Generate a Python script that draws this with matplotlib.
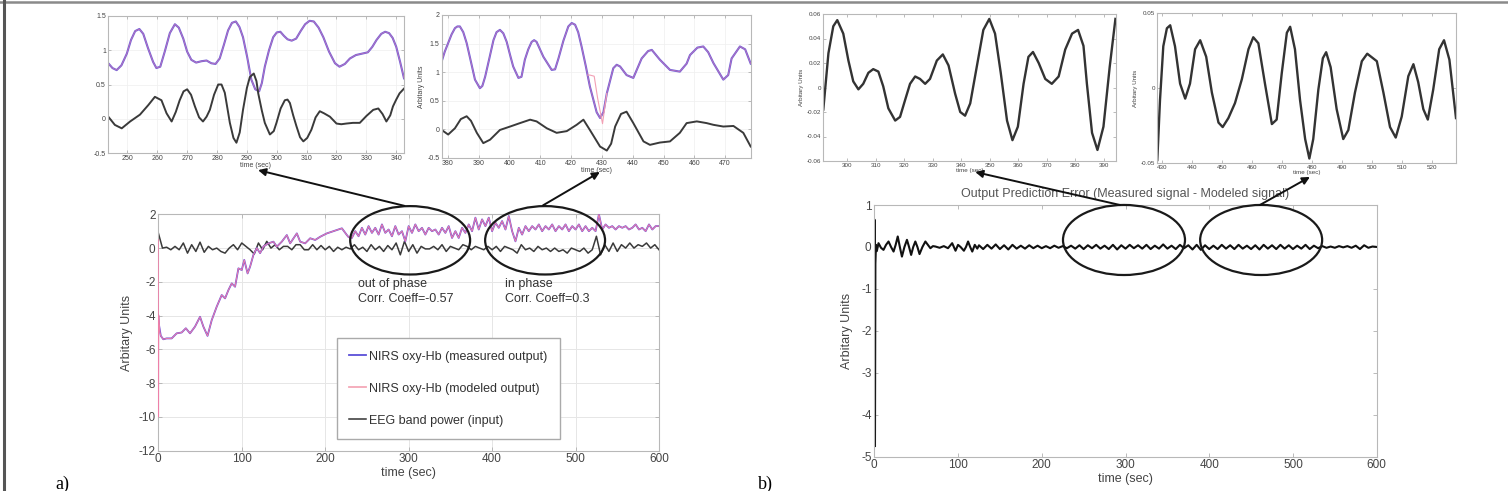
import numpy as np
import matplotlib
matplotlib.use("Agg")
import matplotlib.pyplot as plt
from matplotlib.patches import Ellipse, ConnectionPatch
from matplotlib.lines import Line2D
from matplotlib.ticker import FormatStrFormatter

plt.rcParams['font.family'] = ['Liberation Sans', 'DejaVu Sans']
plt.rcParams['axes.unicode_minus'] = False

# ---- main panel a: NIRS oxy-Hb + EEG band power, 0-600 s ----
a_t_start = [0, 1, 3, 6, 10, 16, 22, 28, 33, 38, 44, 50, 54, 59, 64, 70, 76, 80, 84, 88,
             92, 96, 100, 103, 107, 110, 114, 118, 122, 126, 132, 138, 142, 148, 154, 158,
             166, 170, 176, 182, 188, 194, 202, 208, 214, 220, 226, 228]
a_v_start = [-4.0, -4.6, -5.2, -5.4, -5.35, -5.35, -5.05, -5.0, -4.75, -5.05, -4.65, -4.07,
             -4.65, -5.2, -4.27, -3.47, -2.78, -2.98, -2.49, -2.09, -2.29, -1.2, -1.3, -0.7,
             -1.5, -1.1, -0.4, 0.0, -0.3, 0.1, 0.28, 0.38, 0.08, 0.38, 0.77, 0.28, 0.87, 0.38,
             0.28, 0.58, 0.48, 0.67, 0.87, 0.97, 1.07, 1.17, 0.77, 0.65]
# 232..600 every 4 s
a_v_rest = [0.6, 1.0, 0.7, 1.2, 0.8, 1.3, 0.9, 1.2, 0.8, 1.4,
            0.9, 1.1, 0.7, 1.3, 0.8, 1.0, 0.4, 1.3, 0.9, 1.4,
            1.0, 1.2, 0.8, 1.2, 1.0, 1.1, 0.8, 1.2, 0.9, 1.3,
            0.6, 1.0, 0.6, 1.2, 0.9, 1.4, 1.0, 1.8, 1.1, 1.7,
            1.3, 1.8, 1.0, 1.5, 1.2, 1.6, 1.1, 1.9, 1.0, 0.4,
            1.2, 0.8, 1.3, 1.0, 1.3, 1.1, 1.4, 1.0, 1.3, 1.1,
            1.4, 1.0, 1.3, 1.1, 1.4, 1.0, 1.3, 1.1, 1.4, 1.0,
            1.3, 1.0, 1.2, 1.0, 2.0, 1.1, 1.4, 1.2, 1.3, 1.1,
            1.3, 1.2, 1.3, 1.1, 1.2, 1.4, 1.1, 1.2, 1.0, 1.4,
            1.1, 1.3, 1.3]
model_t_start = [0, 0.3, 0.6, 1.0, 2.0]
model_v_start = [0.5, -10.0, -4.0, -4.5, -5.0]

# EEG band power, 0..600 every 5 s
eeg_v = [0.9, 0.0, 0.05, -0.1, 0.1, -0.1, 0.3, -0.3, 0.2, -0.2,
         0.35, -0.25, 0.1, -0.1, 0.0, -0.2, -0.3, 0.0, 0.2, -0.1,
         0.3, 0.1, -0.1, -0.35, 0.3, -0.1, 0.4, 0.0, 0.2, -0.1,
         0.1, 0.1, -0.1, 0.2, 0.2, -0.1, -0.1, 0.2, -0.1, 0.15,
         -0.1, 0.1, -0.2, 0.05, -0.1, 0.05, -0.05, 0.2, -0.1, 0.05,
         -0.2, 0.2, -0.1, 0.1, -0.2, 0.15, -0.1, 0.3, -0.4, 0.4,
         -0.2, 0.2, -0.3, 0.1, -0.05, -0.05, 0.1, -0.1, 0.2, -0.2,
         0.1, 0.0, -0.1, 0.2, 0.1, -0.1, 0.1, 0.0, -0.1, 0.1,
         -0.1, 0.1, -0.2, 0.1, 0.0, -0.1, -0.3, 0.2, -0.1, 0.0,
         -0.2, 0.1, -0.1, 0.0, -0.2, 0.0, -0.2, -0.1, -0.3, 0.0,
         -0.1, -0.2, 0.0, -0.3, -0.1, 0.7, -0.4, 0.2, -0.2, 0.3,
         -0.2, 0.2, 0.0, 0.3, 0.0, 0.2, 0.1, 0.3, 0.0, 0.2,
         -0.1]

# ---- main panel b: output prediction error ----
b_t_start = [0, 0.3, 0.8, 1.3, 2, 3, 5, 8, 11, 14, 17, 20, 23, 25.5, 28, 30.5, 33, 36, 39, 41.5,
             44, 46.5, 49, 51.5, 54, 57.5, 61, 64, 67, 70, 73, 78, 83, 88, 93, 97, 100, 103, 107,
             109.5, 112, 114.5, 117, 120, 123]
b_v_start = [0.0, 0.65, -4.75, -0.4, 0.05, -0.1, 0.09, -0.02, -0.07, 0.05, 0.13, 0.0, -0.11,
             0.05, 0.25, 0.0, -0.23, 0.0, 0.17, 0.0, -0.19, 0.0, 0.13, 0.0, -0.17, 0.0, 0.13,
             0.05, -0.03, 0.02, 0.01, -0.02, 0.02, -0.03, 0.09, -0.09, 0.05, 0.0, -0.09, 0.0,
             0.13, 0.0, -0.11, 0.05, -0.04]
# 125..600 every 5 s
b_v_rest = [0.04, -0.05, 0.05, -0.04, 0.06, -0.05, 0.04, -0.06, 0.05, -0.04,
            0.03, -0.04, 0.04, -0.03, 0.03, -0.03, 0.02, -0.03, 0.03, -0.02,
            0.02, -0.03, 0.03, -0.04, 0.04, -0.05, 0.04, -0.03, 0.05, -0.04,
            0.03, -0.05, 0.05, -0.06, 0.04, -0.04, 0.05, -0.03, 0.04, -0.04,
            0.05, -0.05, 0.03, -0.04, 0.06, -0.04, 0.03, -0.05, 0.05, -0.03,
            0.04, -0.06, 0.05, -0.07, 0.04, -0.05, 0.03, -0.05, 0.05, -0.04,
            0.04, -0.05, 0.05, -0.04, 0.03, -0.05, 0.04, -0.06, 0.05, -0.04,
            0.04, -0.05, 0.05, -0.04, 0.04, -0.05, 0.03, -0.04, 0.05, -0.05,
            0.03, -0.03, 0.02, -0.02, 0.01, -0.02, 0.02, -0.01, 0.02, -0.02,
            0.03, -0.05, 0.04, -0.02, 0.01, 0.0]

# ---- inset a1 (250-340 s) ----
a1_t = [243.6, 245.0, 246.4, 248.0, 249.8, 251.2, 252.6, 254.0, 255.3, 256.9,
        258.6, 259.7, 261.0, 262.5, 264.2, 265.9, 267.2, 268.7, 270.0, 271.4,
        273.0, 274.8, 276.5, 278.1, 279.5, 280.9, 282.3, 283.7, 285.0, 286.3,
        287.5, 288.7, 290.1, 291.5, 292.8, 294.1, 295.0, 296.0, 297.4, 298.8,
        300.0, 301.2, 302.4, 303.6, 305.0, 306.5, 308.0, 309.5, 311.0, 312.4,
        314.0, 315.6, 317.5, 319.5, 321.0, 322.8, 324.5, 326.5, 328.5, 330.5,
        332.0, 333.4, 335.0, 336.3, 337.6, 338.8, 340.0, 341.3, 342.6]
a1_meas = [0.81, 0.74, 0.71, 0.78, 0.95, 1.15, 1.28, 1.31, 1.24, 1.03,
           0.83, 0.74, 0.76, 0.98, 1.25, 1.38, 1.33, 1.17, 0.98, 0.86,
           0.82, 0.84, 0.85, 0.81, 0.80, 0.88, 1.08, 1.29, 1.40, 1.42,
           1.34, 1.19, 0.90, 0.57, 0.43, 0.40, 0.52, 0.76, 1.00, 1.19,
           1.26, 1.27, 1.21, 1.16, 1.14, 1.17, 1.28, 1.38, 1.43, 1.42,
           1.33, 1.19, 0.98, 0.81, 0.76, 0.80, 0.88, 0.93, 0.95, 0.97,
           1.05, 1.15, 1.24, 1.27, 1.25, 1.18, 1.05, 0.83, 0.59]
a1_eeg_t = [243.6, 245.8, 248.1, 250.9, 254.2, 257.0, 259.2, 261.4, 263.1, 264.8,
            266.2, 267.5, 268.8, 270.0, 271.3, 272.6, 274.0, 275.3, 276.5, 277.6,
            279.0, 280.4, 281.5, 282.6, 284.3, 285.5, 286.5, 287.6, 288.7, 290.0,
            291.0, 292.3, 293.2, 293.8, 295.0, 296.0, 297.7, 299.0, 299.9, 301.3,
            302.7, 303.6, 304.4, 305.5, 306.6, 307.8, 308.9, 310.2, 311.6, 313.0,
            314.4, 315.8, 317.8, 320.0, 321.6, 323.3, 325.5, 327.8, 330.0, 332.3,
            334.0, 335.4, 336.7, 338.0, 338.9, 340.0, 341.1, 342.6]
a1_eeg = [0.03, -0.09, -0.14, -0.04, 0.06, 0.20, 0.32, 0.27, 0.08, -0.04,
          0.10, 0.27, 0.40, 0.43, 0.35, 0.18, 0.02, -0.04, 0.03, 0.13,
          0.35, 0.50, 0.50, 0.38, -0.06, -0.28, -0.35, -0.20, 0.13, 0.45,
          0.61, 0.66, 0.55, 0.37, 0.12, -0.06, -0.23, -0.18, -0.06, 0.15,
          0.27, 0.28, 0.23, 0.05, -0.11, -0.27, -0.33, -0.28, -0.16, 0.02,
          0.11, 0.08, 0.03, -0.07, -0.08, -0.07, -0.06, -0.06, 0.04, 0.13,
          0.15, 0.07, -0.04, 0.05, 0.18, 0.28, 0.37, 0.44]

# ---- inset a2 (380-475 s) ----
a2_t = [378.0, 379.0, 380.1, 381.2, 382.3, 383.1, 383.9, 385.0, 386.1, 387.5,
        388.8, 390.4, 391.2, 392.1, 393.5, 394.8, 395.8, 396.9, 398.0, 399.1,
        400.2, 401.2, 402.9, 403.9, 405.0, 406.1, 407.2, 408.0, 408.8, 411.0,
        413.7, 414.8, 415.9, 417.5, 419.1, 420.2, 421.3, 422.3, 423.4, 424.8,
        426.1, 428.3, 429.4, 430.5, 431.6, 433.7, 434.8, 435.9, 438.0, 440.2,
        442.9, 445.0, 446.2, 448.8, 452.1, 455.3, 457.5, 458.6, 461.0, 462.9,
        464.5, 466.2, 469.4, 471.0, 472.1, 474.8, 476.5, 478.3]
a2_meas = [1.19, 1.36, 1.51, 1.66, 1.77, 1.80, 1.80, 1.70, 1.51, 1.18,
           0.87, 0.72, 0.76, 0.92, 1.25, 1.56, 1.70, 1.74, 1.68, 1.53,
           1.30, 1.10, 0.90, 0.92, 1.22, 1.40, 1.53, 1.56, 1.53, 1.27,
           1.04, 1.05, 1.24, 1.55, 1.80, 1.86, 1.83, 1.70, 1.45, 1.10,
           0.75, 0.30, 0.20, 0.30, 0.63, 1.07, 1.13, 1.10, 0.95, 0.90,
           1.24, 1.37, 1.39, 1.22, 1.04, 1.01, 1.15, 1.30, 1.43, 1.45,
           1.35, 1.16, 0.87, 0.95, 1.24, 1.45, 1.40, 1.15]
a2_dev_t = [425.5, 426.1, 427.5, 428.6, 430.2, 431.6]
a2_dev_v = [0.95, 0.95, 0.93, 0.55, 0.10, 0.63]
a2_eeg_t = [378.0, 380.1, 382.3, 384.2, 386.1, 387.5, 389.4, 391.5, 393.7, 396.9,
            400.2, 403.4, 406.7, 408.8, 412.1, 415.3, 418.6, 421.8, 424.0, 426.1,
            429.4, 431.6, 433.0, 434.3, 436.2, 438.0, 440.2, 443.5, 445.6, 448.8,
            452.1, 455.3, 457.5, 460.8, 464.0, 466.2, 469.4, 472.7, 475.9, 478.3]
a2_eeg = [-0.01, -0.09, 0.02, 0.18, 0.23, 0.15, -0.06, -0.24, -0.18, -0.01,
          0.05, 0.11, 0.17, 0.14, 0.02, -0.06, -0.03, 0.08, 0.17, -0.01,
          -0.30, -0.37, -0.25, 0.05, 0.27, 0.31, 0.11, -0.21, -0.27, -0.23,
          -0.21, -0.06, 0.11, 0.14, 0.11, 0.08, 0.05, 0.06, -0.06, -0.30]

# ---- inset b1 (300-390 s) ----
b1_t = [291.6, 293.4, 295.1, 296.5, 298.6, 300.4, 302.1, 303.9, 305.6, 307.4,
        309.1, 310.9, 312.6, 314.4, 316.8, 318.5, 320.3, 322.0, 323.8, 325.5,
        327.3, 329.0, 331.4, 333.5, 335.5, 337.8, 339.6, 341.3, 343.1, 345.4,
        347.7, 349.8, 351.8, 353.8, 356.0, 357.9, 359.8, 361.8, 363.5, 365.1,
        367.1, 369.4, 371.7, 374.1, 376.4, 378.8, 380.9, 382.8, 384.0, 385.8,
        387.7, 389.8, 392.0, 394.0]
b1_err = [-0.018, 0.028, 0.050, 0.055, 0.044, 0.022, 0.005, -0.0015, 0.003, 0.012,
          0.015, 0.013, 0.001, -0.017, -0.027, -0.024, -0.010, 0.003, 0.009, 0.007,
          0.003, 0.007, 0.022, 0.027, 0.018, -0.005, -0.020, -0.023, -0.013, 0.017,
          0.047, 0.056, 0.044, 0.012, -0.027, -0.043, -0.032, 0.003, 0.025, 0.029,
          0.020, 0.007, 0.003, 0.009, 0.031, 0.044, 0.047, 0.034, 0.003, -0.037,
          -0.051, -0.032, 0.017, 0.056]
b1_yticks = [-0.06, -0.04, -0.02, 0, 0.02, 0.04, 0.06]

# ---- inset b2 (430-520 s) ----
b2_t = [428.5, 429.4, 430.5, 431.7, 432.8, 434.4, 436.1, 437.8, 439.4, 441.1,
        442.8, 444.8, 446.7, 448.9, 450.3, 452.2, 454.4, 456.7, 458.9, 460.5,
        462.2, 464.4, 466.7, 468.3, 470.0, 471.7, 472.8, 474.4, 476.1, 477.8,
        479.2, 480.5, 482.2, 483.7, 484.8, 486.3, 488.3, 490.5, 492.2, 494.4,
        496.7, 498.5, 501.7, 503.9, 506.1, 508.0, 510.0, 512.2, 513.9, 515.5,
        517.2, 518.7, 520.5, 522.5, 524.1, 525.9, 528.1]
b2_err = [-0.048, -0.008, 0.028, 0.040, 0.042, 0.028, 0.003, -0.007, 0.003, 0.026,
          0.032, 0.021, -0.003, -0.023, -0.026, -0.020, -0.010, 0.006, 0.026, 0.034,
          0.030, 0.003, -0.024, -0.021, 0.010, 0.037, 0.041, 0.026, -0.008, -0.034,
          -0.047, -0.034, -0.001, 0.020, 0.024, 0.014, -0.014, -0.034, -0.028, -0.003,
          0.018, 0.023, 0.018, -0.003, -0.026, -0.033, -0.019, 0.008, 0.016, 0.004,
          -0.014, -0.021, -0.001, 0.026, 0.032, 0.019, -0.020]
b2_yticks = [-0.05, 0, 0.05]

a_time = np.concatenate([a_t_start, np.arange(232, 601, 4)])
a_meas = np.concatenate([a_v_start, a_v_rest])
a_model_t = np.concatenate([model_t_start, a_time[a_time >= 3]])
a_model = np.concatenate([model_v_start, a_meas[a_time >= 3]])
eeg_t = np.arange(0, 601, 5)
b_time = np.concatenate([b_t_start, np.arange(125, 601, 5)])
b_err = np.concatenate([b_v_start, b_v_rest])

W, H = 1508, 491
def px_box(l, t, r, b):
    return [l / W, 1 - b / H, (r - l) / W, (b - t) / H]

C_MEAS = '#6a4fdc'
C_MODEL = '#ee7fa8'
C_EEG = '#3a3a3a'
TXT = '#444444'

def style(ax, fs):
    for s in ax.spines.values():
        s.set_color('#b8b8b8')
        s.set_linewidth(0.8)
    ax.tick_params(direction='in', top=True, right=True, color='#b0b0b0',
                   labelcolor=TXT, labelsize=fs, length=3, width=0.6, pad=2)

fig = plt.figure(figsize=(W / 100, H / 100), dpi=100)

# main a
ax_a = fig.add_axes(px_box(158.3, 214.3, 659, 450.7))
ax_a.plot(a_time, a_meas, color=C_MEAS, lw=1.3, zorder=3)
ax_a.plot(a_model_t, a_model, color=C_MODEL, lw=0.7, zorder=4)
ax_a.plot(eeg_t, eeg_v, color=C_EEG, lw=1.1, zorder=2)
ax_a.set_xlim(0, 600)
ax_a.set_ylim(-12, 2)
ax_a.set_xticks(range(0, 601, 100))
ax_a.set_yticks(range(-12, 3, 2))
ax_a.grid(True, color='#e6e6e6', lw=0.7)
style(ax_a, 8.5)
ax_a.set_xlabel('time (sec)', fontsize=9, color=TXT, labelpad=1)
ax_a.set_ylabel('Arbitary Units', fontsize=9, color=TXT, labelpad=4)
handles = [Line2D([], [], color='#5b4fd8', lw=1.3),
           Line2D([], [], color='#f4a8b8', lw=1.3),
           Line2D([], [], color='#333333', lw=1.1)]
ax_a.legend(handles, ['NIRS oxy-Hb (measured output)', 'NIRS oxy-Hb (modeled output)',
                      'EEG band power (input)'],
            loc='upper left', bbox_to_anchor=(0.3565, 0.476), borderaxespad=0,
            fontsize=9, labelspacing=1.6, borderpad=1.0, handlelength=1.3,
            handletextpad=0.3, frameon=True, fancybox=False, framealpha=1,
            edgecolor='#aaaaaa', labelcolor='#333333')
ax_a.text(239, -1.75, 'out of phase\nCorr. Coeff=-0.57', fontsize=9, color='#333333',
          va='top', ha='left', linespacing=1.35)
ax_a.text(416, -1.75, 'in phase\nCorr. Coeff=0.3', fontsize=9, color='#333333',
          va='top', ha='left', linespacing=1.35)
for cx in (301.8, 463.5):
    ax_a.add_patch(Ellipse((cx, 0.46), 143.7, 4.05, fill=False, ec='#1a1a1a', lw=1.6,
                           clip_on=False, zorder=6))

# main b
ax_b = fig.add_axes(px_box(874.3, 205, 1376.7, 456.7))
ax_b.plot(b_time, b_err, color='#111111', lw=1.5)
ax_b.set_xlim(0, 600)
ax_b.set_ylim(-5, 1)
ax_b.set_xticks(range(0, 601, 100))
ax_b.set_yticks(range(-5, 2, 1))
style(ax_b, 8.5)
ax_b.set_xlabel('time (sec)', fontsize=9, color=TXT, labelpad=1)
ax_b.set_ylabel('Arbitary Units', fontsize=9, color=TXT, labelpad=6)
ax_b.set_title('Output Prediction Error (Measured signal - Modeled signal)', fontsize=9,
               color='#555555', pad=6)
for cx in (298.2, 462.0):
    ax_b.add_patch(Ellipse((cx, 0.166), 145.7, 1.67, fill=False, ec='#1a1a1a', lw=1.6,
                           clip_on=False, zorder=6))

def inset(box, xlim, ylim, xt, yt, fs=5, ylabel=True, grid=False):
    ax = fig.add_axes(px_box(*box))
    ax.set_xlim(*xlim)
    ax.set_ylim(*ylim)
    ax.set_xticks(xt)
    ax.set_yticks(yt)
    ax.yaxis.set_major_formatter(FormatStrFormatter('%g'))
    style(ax, fs)
    ax.tick_params(length=2, pad=1.5)
    ax.set_xlabel('time (sec)', fontsize=fs, color=TXT, labelpad=0)
    if ylabel:
        ax.set_ylabel('Arbitary Units', fontsize=fs, color=TXT, labelpad=2)
    if grid:
        ax.grid(True, color='#efefef', lw=0.5)
    return ax

ax_a1 = inset((108, 16, 404, 153), (243.5, 342.6), (-0.5, 1.5), range(250, 341, 10),
              [-0.5, 0, 0.5, 1, 1.5], ylabel=False, grid=True)
ax_a1.plot(a1_t, a1_meas, color='#7060d8', lw=1.5)
ax_a1.plot(a1_t, a1_meas, color=C_MODEL, lw=0.5, alpha=0.7)
ax_a1.plot(a1_eeg_t, a1_eeg, color=C_EEG, lw=1.4)

ax_a2 = inset((441.7, 15, 750.7, 158), (378, 478.3), (-0.5, 2), range(380, 471, 10),
              [-0.5, 0, 0.5, 1, 1.5, 2], grid=True)
ax_a2.plot(a2_t, a2_meas, color='#7060d8', lw=1.5)
ax_a2.plot(a2_t, a2_meas, color=C_MODEL, lw=0.5, alpha=0.7)
ax_a2.plot(a2_dev_t, a2_dev_v, color='#f2a0b4', lw=0.8)
ax_a2.plot(a2_eeg_t, a2_eeg, color=C_EEG, lw=1.4)

ax_b1 = inset((823.3, 14, 1116, 161), (291.6, 394.2), (-0.06, 0.06), range(300, 391, 10),
              b1_yticks, fs=4.5)
ax_b1.plot(b1_t, b1_err, color='#333333', lw=1.7)

ax_b2 = inset((1157.3, 13.3, 1456, 163), (428.5, 528.1), (-0.05, 0.05), range(430, 521, 10),
              b2_yticks, fs=4.5)
ax_b2.plot(b2_t, b2_err, color='#333333', lw=1.7)

# arrows from the ellipses to the zoomed insets
arrows = [(ax_a, (295, 2.5), ax_a1, (0.507, -0.125)),
          (ax_a, (461, 2.53), ax_a2, (0.512, -0.098)),
          (ax_b, (293.4, 1.0), ax_b1, (0.519, -0.075)),
          (ax_b, (460.5, 1.0), ax_b2, (0.511, -0.093))]
for src, xy_a, dst, xy_b in arrows:
    con = ConnectionPatch(xyA=xy_a, coordsA=src.transData, xyB=xy_b, coordsB=dst.transAxes,
                          arrowstyle='-|>', mutation_scale=11, lw=1.4, color='#111111')
    fig.add_artist(con)

# panel letters and frame
fig.text(55 / W, 1 - 489 / H, 'a)', fontsize=13, family='Liberation Serif', va='baseline')
fig.text(758 / W, 1 - 489 / H, 'b)', fontsize=13, family='Liberation Serif', va='baseline')
fig.add_artist(Line2D([0, 1], [1 - 1.5 / H, 1 - 1.5 / H], color='#8a8a8a', lw=1.8))
fig.add_artist(Line2D([3.5 / W, 3.5 / W], [0, 1], color='#555555', lw=2.2))

fig.savefig('out.png', dpi=100)
